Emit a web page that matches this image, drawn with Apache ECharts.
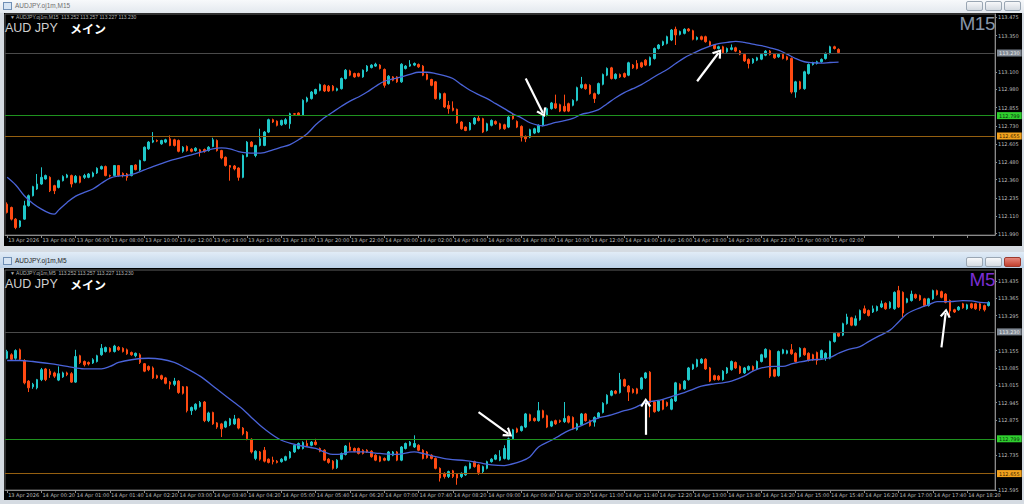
<!DOCTYPE html>
<html><head><meta charset="utf-8">
<script src="https://cdn.jsdelivr.net/npm/echarts@6/dist/echarts.min.js"></script>
<style>
html,body{margin:0;padding:0;}
body{width:1024px;height:504px;position:relative;overflow:hidden;background:#d5dbe2;font-family:'Liberation Sans',Arial,sans-serif;}
.tbar{position:absolute;left:0;width:1024px;}
#tb1{top:0;height:13px;background:linear-gradient(#f7f9fb,#e3e8ee);}
#tb2{top:252px;height:16px;background:linear-gradient(#e1ecf7,#bcd1e7);}
.ttl{position:absolute;left:15px;font-size:6.5px;line-height:8px;white-space:nowrap;}
.icon{position:absolute;left:3px;width:7px;height:6px;border:1px solid #6f8fb5;background:#d6e4f3;}
.btn{position:absolute;width:15px;height:8px;border:1px solid #9aa6b3;border-radius:2px;background:linear-gradient(#f7f8fa,#d5dbe2);}
.chart{position:absolute;left:4px;width:1018px;background:#000;}
.ov{position:absolute;white-space:nowrap;z-index:5;pointer-events:none;}
.info{font-size:5px;line-height:5px;color:#b4b4b4;left:6px;}
.sym{font-size:12.5px;line-height:10px;color:#cfcfcf;left:1px;}
.jp{font-family:'Noto Sans CJK JP',sans-serif;font-weight:bold;color:#fff;font-size:12px;line-height:10px;left:66px;}
.tf{font-size:19px;line-height:15px;right:27px;letter-spacing:-0.5px;}
</style></head><body>
<div class="tbar" id="tb1"><div class="icon" style="top:2px"></div><div class="ttl" style="top:2px;color:#6e6e6e">AUDJPY.oj1m,M15</div>
<div class="btn" style="left:966px;top:1px"></div><div class="btn" style="left:985px;top:1px"></div><div class="btn" style="left:1004px;top:1px"></div></div>
<div class="chart" id="c1" style="top:13px;height:233px;">
<div class="ov info" style="top:1.5px">▼ AUDJPY.oj1m,M15&nbsp; 113.252 113.257 113.227 113.230</div>
<div class="ov sym" style="top:9.5px">AUD JPY</div><div class="ov jp" style="top:10.5px">メイン</div>
<div class="ov tf" style="top:3px;color:#8796a8">M15</div>
</div>
<div class="tbar" id="tb2"><div class="icon" style="top:5px"></div><div class="ttl" style="top:5px;color:#1e1e1e">AUDJPY.oj1m,M5</div>
<div class="btn" style="left:966px;top:5px"></div><div class="btn" style="left:985px;top:5px"></div><div class="btn" style="left:1004px;top:5px;background:linear-gradient(#e6877c,#c2402f);border-color:#9c3a2e"></div></div>
<div class="chart" id="c2" style="top:268px;height:232px;">
<div class="ov info" style="top:2.5px">▼ AUDJPY.oj1m,M5&nbsp; 113.252 113.257 113.227 113.230</div>
<div class="ov sym" style="top:10.5px">AUD JPY</div><div class="ov jp" style="top:11.5px">メイン</div>
<div class="ov tf" style="top:4px;color:#7b2fd2">M5</div>
</div>
<script>
// ---------- DATA ----------
const m15TimeLabels = ['13 Apr 2026','13 Apr 04:00','13 Apr 06:00','13 Apr 08:00','13 Apr 10:00','13 Apr 12:00','13 Apr 14:00','13 Apr 16:00','13 Apr 18:00','13 Apr 20:00','13 Apr 22:00','14 Apr 00:00','14 Apr 02:00','14 Apr 04:00','14 Apr 06:00','14 Apr 08:00','14 Apr 10:00','14 Apr 12:00','14 Apr 14:00','14 Apr 16:00','14 Apr 18:00','14 Apr 20:00','14 Apr 22:00','15 Apr 00:00','15 Apr 02:00'];
const m5TimeLabels = ['13 Apr 2026','14 Apr 00:20','14 Apr 01:00','14 Apr 01:40','14 Apr 02:20','14 Apr 03:00','14 Apr 03:40','14 Apr 04:20','14 Apr 05:00','14 Apr 05:40','14 Apr 06:20','14 Apr 07:00','14 Apr 07:40','14 Apr 08:20','14 Apr 09:00','14 Apr 09:40','14 Apr 10:20','14 Apr 11:00','14 Apr 11:40','14 Apr 12:20','14 Apr 13:00','14 Apr 13:40','14 Apr 14:20','14 Apr 15:00','14 Apr 15:40','14 Apr 16:20','14 Apr 17:00','14 Apr 17:40','14 Apr 18:20'];
const m15PriceTicks = [113.475,113.350,113.100,112.980,112.855,112.730,112.605,112.480,112.360,112.235,112.110,111.990];
const m5PriceTicks = [113.435,113.365,113.295,113.155,113.085,113.015,112.945,112.875,112.735,112.595];
const levelPrices = [113.230, 112.799, 112.655];

// [open, close, low, high]
const m15Candles = [
[112.192,112.135,112.128,112.204],[112.169,112.089,112.080,112.175],[112.089,112.031,112.020,112.096],[112.038,112.077,112.030,112.082],
[112.089,112.181,112.085,112.215],[112.181,112.250,112.175,112.258],[112.250,112.312,112.245,112.318],[112.296,112.330,112.290,112.399],
[112.330,112.376,112.325,112.445],[112.365,112.388,112.360,112.395],[112.376,112.284,112.275,112.383],[112.319,112.284,112.261,112.325],
[112.307,112.353,112.300,112.360],[112.353,112.381,112.348,112.390],[112.376,112.392,112.370,112.400],[112.388,112.330,112.307,112.395],
[112.342,112.383,112.335,112.392],[112.381,112.342,112.335,112.388],[112.376,112.388,112.365,112.400],[112.376,112.399,112.370,112.406],
[112.383,112.406,112.376,112.415],[112.406,112.438,112.399,112.445],[112.434,112.450,112.429,112.457],[112.450,112.388,112.383,112.457],
[112.388,112.385,112.376,112.395],[112.388,112.457,112.383,112.461],[112.457,112.388,112.381,112.461],[112.403,112.388,112.376,112.410],
[112.399,112.376,112.353,112.406],[112.388,112.457,112.383,112.461],[112.461,112.429,112.424,112.466],[112.427,112.491,112.420,112.497],
[112.491,112.583,112.486,112.588],[112.572,112.618,112.565,112.625],[112.618,112.629,112.611,112.687],[112.629,112.625,112.618,112.636],
[112.606,112.629,112.600,112.634],[112.618,112.634,112.611,112.641],[112.641,112.595,112.590,112.664],[112.634,112.595,112.588,112.641],
[112.629,112.555,112.548,112.636],[112.555,112.583,112.545,112.590],[112.588,112.560,112.553,112.595],[112.569,112.555,112.548,112.576],
[112.560,112.576,112.553,112.583],[112.565,112.549,112.519,112.572],[112.567,112.555,112.545,112.574],[112.560,112.583,112.553,112.590],
[112.588,112.634,112.583,112.648],[112.629,112.560,112.553,112.636],[112.560,112.509,112.500,112.565],[112.514,112.457,112.450,112.519],
[112.457,112.445,112.353,112.461],[112.454,112.434,112.424,112.461],[112.440,112.376,112.353,112.445],[112.376,112.526,112.370,112.533],
[112.519,112.618,112.514,112.625],[112.618,112.588,112.583,112.625],[112.526,112.595,112.514,112.600],[112.595,112.641,112.588,112.710],
[112.595,112.687,112.590,112.694],[112.687,112.772,112.680,112.779],[112.772,112.756,112.749,112.779],[112.762,112.733,112.726,112.767],
[112.737,112.767,112.730,112.772],[112.744,112.772,112.737,112.783],[112.744,112.813,112.710,112.820],[112.813,112.810,112.802,112.818],
[112.818,112.804,112.797,112.822],[112.802,112.905,112.797,112.912],[112.898,112.921,112.890,112.930],[112.917,112.962,112.910,112.969],
[112.951,112.979,112.944,112.985],[112.974,113.013,112.967,113.020],[113.008,112.969,112.962,113.015],[113.002,112.969,112.962,113.010],
[113.002,112.974,112.967,113.010],[112.974,112.985,112.967,112.992],[112.985,113.055,112.979,113.062],[113.055,113.112,113.048,113.120],
[113.107,113.078,113.071,113.115],[113.089,113.066,113.060,113.095],[113.089,113.071,113.064,113.095],[113.066,113.112,113.060,113.117],
[113.107,113.140,113.100,113.147],[113.130,113.147,113.124,113.153],[113.140,113.153,113.135,113.163],[113.147,113.124,113.117,113.153],
[113.117,113.008,112.992,113.124],[113.020,113.071,113.013,113.078],[113.066,113.043,113.036,113.071],[113.066,113.032,113.025,113.071],
[113.032,113.153,113.025,113.160],[113.124,113.140,113.117,113.147],[113.140,113.153,113.135,113.181],[113.147,113.158,113.140,113.165],
[113.151,113.135,113.128,113.158],[113.140,113.078,113.071,113.147],[113.084,113.050,113.043,113.089],[113.048,113.008,113.002,113.053],
[113.032,112.917,112.910,113.038],[112.917,112.951,112.910,112.958],[112.951,112.859,112.852,112.958],[112.871,112.848,112.813,112.901],
[112.852,112.836,112.829,112.898],[112.843,112.751,112.744,112.848],[112.756,112.710,112.703,112.762],[112.721,112.698,112.693,112.726],
[112.703,112.749,112.698,112.756],[112.744,112.783,112.737,112.790],[112.783,112.767,112.760,112.802],[112.779,112.687,112.680,112.785],
[112.698,112.744,112.691,112.751],[112.733,112.767,112.726,112.774],[112.760,112.744,112.737,112.767],[112.744,112.710,112.703,112.751],
[112.737,112.710,112.703,112.744],[112.721,112.790,112.714,112.797],[112.806,112.779,112.772,112.813],[112.760,112.721,112.714,112.767],
[112.726,112.652,112.622,112.733],[112.657,112.641,112.618,112.664],[112.652,112.703,112.645,112.710],[112.680,112.710,112.673,112.717],
[112.687,112.733,112.680,112.740],[112.733,112.802,112.726,112.808],[112.802,112.848,112.795,112.855],[112.848,112.887,112.841,112.894],
[112.882,112.852,112.845,112.944],[112.875,112.831,112.824,112.882],[112.864,112.831,112.824,112.944],[112.882,112.831,112.824,112.889],
[112.871,112.905,112.864,112.912],[112.905,112.992,112.898,112.999],[112.992,113.013,112.985,113.066],[113.013,112.985,112.978,113.020],
[113.008,112.951,112.944,113.015],[112.951,112.917,112.887,112.958],[112.951,113.020,112.944,113.027],[113.015,113.082,113.008,113.089],
[113.078,113.124,113.071,113.131],[113.128,113.055,113.048,113.135],[113.055,113.084,113.048,113.091],[113.082,113.066,113.059,113.089],
[113.089,113.066,113.059,113.096],[113.078,113.163,113.071,113.170],[113.147,113.128,113.121,113.154],[113.158,113.124,113.117,113.181],
[113.163,113.135,113.128,113.170],[113.181,113.147,113.140,113.188],[113.147,113.199,113.140,113.206],[113.192,113.261,113.185,113.268],
[113.261,113.285,113.254,113.292],[113.285,113.308,113.278,113.315],[113.296,113.342,113.289,113.349],[113.319,113.388,113.312,113.395],
[113.393,113.354,113.285,113.411],[113.358,113.377,113.351,113.384],[113.365,113.393,113.358,113.400],[113.395,113.383,113.376,113.402],
[113.383,113.324,113.317,113.390],[113.324,113.337,113.317,113.344],[113.342,113.324,113.317,113.349],[113.342,113.308,113.301,113.349],
[113.308,113.285,113.278,113.315],[113.285,113.261,113.254,113.292],[113.261,113.273,113.254,113.280],[113.273,113.232,113.225,113.280],
[113.239,113.261,113.232,113.268],[113.255,113.266,113.248,113.289],[113.266,113.243,113.236,113.273],[113.243,113.222,113.215,113.250],
[113.220,113.176,113.169,113.227],[113.186,113.158,113.124,113.193],[113.163,113.188,113.156,113.195],[113.181,113.197,113.174,113.204],
[113.188,113.220,113.181,113.227],[113.215,113.243,113.208,113.250],[113.243,113.220,113.213,113.250],[113.222,113.197,113.190,113.229],
[113.204,113.220,113.197,113.227],[113.220,113.193,113.186,113.227],[113.204,113.186,113.179,113.211],[113.193,112.962,112.951,113.200],
[112.962,113.032,112.923,113.039],[113.032,112.985,112.978,113.039],[112.985,113.101,112.978,113.108],[113.089,113.151,113.082,113.158],
[113.151,113.163,113.144,113.170],[113.158,113.170,113.151,113.177],[113.170,113.186,113.163,113.193],[113.192,113.227,113.185,113.234],
[113.227,113.273,113.220,113.280],[113.273,113.261,113.254,113.280],[113.255,113.234,113.227,113.262]
];

const m5Candles = [
[113.124,113.151,113.120,113.158],[113.138,113.120,113.115,113.144],[113.124,113.155,113.118,113.160],[113.158,113.120,113.115,113.163],
[113.115,113.025,113.019,113.120],[113.032,113.005,112.988,113.036],[113.009,113.019,113.001,113.025],[113.005,113.038,112.999,113.041],
[113.038,113.078,113.032,113.085],[113.081,113.038,113.032,113.085],[113.072,113.058,113.045,113.081],[113.065,113.052,113.045,113.070],
[113.036,113.062,113.032,113.091],[113.049,113.065,113.045,113.070],[113.065,113.058,113.052,113.070],[113.062,113.028,113.025,113.068],
[113.028,113.131,113.025,113.158],[113.134,113.107,113.101,113.138],[113.111,113.098,113.091,113.115],[113.107,113.101,113.095,113.111],
[113.105,113.118,113.101,113.124],[113.111,113.134,113.107,113.138],[113.138,113.164,113.134,113.181],[113.151,113.167,113.147,113.171],
[113.164,113.151,113.147,113.168],[113.151,113.173,113.147,113.178],[113.168,113.158,113.154,113.173],[113.164,113.151,113.147,113.168],
[113.158,113.142,113.138,113.163],[113.147,113.138,113.134,113.151],[113.134,113.144,113.128,113.147],[113.138,113.107,113.101,113.144],
[113.102,113.072,113.068,113.105],[113.091,113.078,113.072,113.095],[113.085,113.045,113.041,113.091],[113.054,113.045,113.041,113.058],
[113.054,113.041,113.036,113.058],[113.045,113.023,113.019,113.049],[113.028,113.019,112.999,113.032],[113.019,113.032,113.012,113.045],
[113.032,112.986,112.981,113.036],[113.009,112.983,112.978,113.012],[113.009,112.913,112.906,113.012],[112.913,112.926,112.896,112.930],
[112.919,112.939,112.913,112.943],[112.930,112.946,112.926,112.952],[112.948,112.873,112.867,112.952],[112.873,112.904,112.867,112.909],
[112.906,112.860,112.856,112.909],[112.864,112.847,112.840,112.867],[112.860,112.840,112.807,112.864],[112.847,112.869,112.843,112.873],
[112.856,112.880,112.851,112.884],[112.860,112.880,112.856,112.896],[112.880,112.843,112.838,112.884],[112.843,112.820,112.814,112.847],
[112.827,112.800,112.794,112.831],[112.798,112.747,112.741,112.802],[112.721,112.750,112.714,112.754],[112.747,112.718,112.712,112.751],
[112.754,112.710,112.705,112.767],[112.718,112.705,112.701,112.721],[112.714,112.708,112.697,112.728],[112.710,112.705,112.701,112.714],
[112.708,112.718,112.704,112.722],[112.714,112.728,112.710,112.732],[112.724,112.747,112.720,112.751],[112.747,112.774,112.743,112.778],
[112.761,112.781,112.757,112.785],[112.761,112.785,112.757,112.790],[112.781,112.771,112.767,112.794],[112.774,112.787,112.770,112.791],
[112.787,112.777,112.773,112.800],[112.761,112.750,112.746,112.765],[112.754,112.714,112.710,112.758],[112.718,112.705,112.700,112.722],
[112.710,112.681,112.676,112.714],[112.684,112.714,112.679,112.718],[112.718,112.741,112.714,112.745],[112.737,112.771,112.733,112.775],
[112.767,112.754,112.750,112.785],[112.761,112.750,112.746,112.765],[112.761,112.741,112.737,112.765],[112.754,112.741,112.737,112.758],
[112.754,112.747,112.743,112.758],[112.750,112.728,112.724,112.754],[112.734,112.714,112.710,112.738],[112.728,112.710,112.706,112.732],
[112.721,112.714,112.710,112.725],[112.714,112.747,112.710,112.751],[112.734,112.747,112.730,112.751],[112.747,112.714,112.710,112.751],
[112.714,112.767,112.710,112.771],[112.761,112.781,112.757,112.785],[112.774,112.787,112.770,112.791],[112.767,112.781,112.763,112.814],
[112.774,112.754,112.750,112.778],[112.754,112.721,112.717,112.758],[112.747,112.724,112.720,112.751],[112.734,112.721,112.717,112.738],
[112.721,112.681,112.677,112.725],[112.681,112.642,112.628,112.685],[112.661,112.648,112.640,112.665],[112.648,112.668,112.642,112.672],
[112.671,112.648,112.642,112.675],[112.658,112.642,112.615,112.662],[112.648,112.661,112.642,112.665],[112.655,112.688,112.651,112.692],
[112.681,112.701,112.677,112.705],[112.708,112.688,112.684,112.712],[112.695,112.665,112.655,112.699],[112.668,112.688,112.662,112.692],
[112.681,112.708,112.677,112.712],[112.708,112.718,112.704,112.722],[112.718,112.734,112.714,112.738],[112.714,112.728,112.710,112.754],
[112.721,112.761,112.717,112.774],[112.718,112.800,112.714,112.805],[112.800,112.836,112.796,112.840],[112.840,112.827,112.823,112.845],
[112.833,112.849,112.829,112.853],[112.847,112.900,112.843,112.904],[112.897,112.873,112.869,112.901],[112.882,112.873,112.869,112.886],
[112.873,112.913,112.869,112.948],[112.913,112.886,112.882,112.917],[112.893,112.847,112.843,112.897],[112.851,112.869,112.847,112.873],
[112.873,112.860,112.856,112.877],[112.873,112.869,112.864,112.877],[112.869,112.882,112.864,112.948],[112.890,112.867,112.862,112.894],
[112.886,112.840,112.836,112.890],[112.837,112.860,112.833,112.864],[112.856,112.900,112.852,112.904],[112.900,112.873,112.869,112.904],
[112.873,112.853,112.849,112.877],[112.867,112.886,112.849,112.890],[112.886,112.904,112.882,112.908],[112.906,112.943,112.902,112.947],
[112.942,112.975,112.938,112.979],[112.975,112.992,112.971,112.996],[112.992,112.983,112.979,112.996],[112.986,113.038,112.982,113.065],
[113.038,113.012,113.008,113.042],[113.012,112.988,112.952,113.016],[112.999,112.986,112.982,113.003],[113.001,112.983,112.979,113.005],
[113.001,113.045,112.997,113.049],[113.045,113.065,113.041,113.069],[113.068,112.946,112.886,113.072],[112.948,112.909,112.905,112.952],
[112.913,112.952,112.909,112.956],[112.956,112.919,112.915,112.960],[112.946,112.933,112.929,112.950],[112.919,112.959,112.915,112.963],
[112.952,113.025,112.948,113.029],[113.019,112.999,112.995,113.023],[113.001,113.032,112.997,113.036],[113.038,113.085,113.034,113.089],
[113.081,113.098,113.077,113.102],[113.091,113.118,113.087,113.122],[113.105,113.120,113.101,113.124],[113.120,113.081,113.077,113.124],
[113.085,113.032,113.028,113.089],[113.054,113.038,113.034,113.058],[113.052,113.038,113.034,113.056],[113.038,113.072,113.034,113.076],
[113.065,113.085,113.061,113.089],[113.078,113.111,113.074,113.115],[113.107,113.085,113.081,113.111],[113.091,113.065,113.061,113.095],
[113.065,113.085,113.061,113.089],[113.078,113.091,113.074,113.095],[113.091,113.078,113.074,113.095],[113.081,113.111,113.077,113.115],
[113.111,113.138,113.107,113.142],[113.128,113.160,113.124,113.164],[113.155,113.052,113.045,113.159],[113.078,113.052,113.048,113.082],
[113.054,113.151,113.050,113.155],[113.144,113.158,113.140,113.162],[113.144,113.154,113.140,113.158],[113.158,113.142,113.138,113.181],
[113.144,113.111,113.107,113.148],[113.131,113.164,113.127,113.168],[113.163,113.138,113.134,113.167],[113.144,113.115,113.111,113.148],
[113.138,113.118,113.114,113.142],[113.147,113.115,113.098,113.151],[113.124,113.155,113.120,113.159],[113.124,113.144,113.114,113.148],
[113.124,113.191,113.120,113.195],[113.191,113.224,113.187,113.228],[113.224,113.213,113.209,113.228],[113.217,113.263,113.213,113.267],
[113.263,113.290,113.259,113.303],[113.287,113.257,113.253,113.291],[113.257,113.283,113.253,113.296],[113.279,113.316,113.275,113.320],
[113.323,113.306,113.302,113.336],[113.316,113.296,113.292,113.320],[113.310,113.323,113.306,113.336],[113.316,113.332,113.312,113.336],
[113.330,113.343,113.326,113.356],[113.345,113.323,113.319,113.349],[113.327,113.349,113.323,113.353],[113.323,113.389,113.319,113.393],
[113.396,113.330,113.326,113.415],[113.389,113.306,113.290,113.393],[113.349,113.363,113.345,113.367],[113.356,113.382,113.352,113.396],
[113.380,113.367,113.363,113.384],[113.376,113.359,113.355,113.380],[113.363,113.336,113.332,113.367],[113.336,113.363,113.332,113.367],
[113.363,113.396,113.359,113.400],[113.396,113.380,113.376,113.400],[113.392,113.369,113.365,113.396],[113.382,113.349,113.345,113.386],
[113.356,113.314,113.290,113.360],[113.319,113.310,113.306,113.323],[113.319,113.330,113.315,113.334],[113.343,113.327,113.323,113.347],
[113.323,113.339,113.319,113.343],[113.343,113.327,113.323,113.347],[113.343,113.323,113.319,113.347],[113.343,113.323,113.315,113.347],
[113.336,113.319,113.312,113.340],[113.336,113.349,113.332,113.353]
];

// moving average: bar number (1-based) and value
const m15MaBar = [1,3,5,7,9,11,12,13,15,17,19,21,23,25,27,29,31,33,35,37,39,41,43,45,47,49,51,53,55,57,59,61,63,65,67,69,71,73,75,77,79,81,83,85,87,89,91,93,95,97,99,101,103,105,107,109,111,113,115,117,119,121,123,125,126,127,129,131,133,135,137,139,141,143,145,147,149,151,153,155,157,159,161,163,165,167,169,171,173,175,177,179,181,183,185,187,189,191,193,195];
const m15MaValue = [112.376,112.323,112.250,112.197,112.158,112.128,112.123,112.151,112.204,112.247,112.273,112.296,112.335,112.371,112.385,112.390,112.404,112.427,112.450,112.470,112.491,112.507,112.523,112.539,112.555,112.572,112.578,112.572,112.553,112.544,112.542,112.546,112.565,112.583,112.601,112.634,112.675,112.737,112.785,112.825,112.864,112.900,112.928,112.962,113.002,113.036,113.052,113.066,113.084,113.098,113.098,113.089,113.075,113.055,113.013,112.974,112.944,112.917,112.882,112.848,112.813,112.785,112.751,112.733,112.730,112.737,112.753,112.765,112.781,112.808,112.822,112.841,112.882,112.923,112.958,112.985,113.013,113.048,113.084,113.117,113.158,113.197,113.227,113.255,113.278,113.294,113.303,113.310,113.303,113.291,113.280,113.266,113.250,113.222,113.192,113.170,113.163,113.160,113.165,113.167];
const m5MaBar = [1,4,7,11,15,19,23,25,27,30,34,37,40,42,46,50,54,56,58,61,65,69,73,75,77,79,81,84,88,92,96,98,101,104,108,111,114,117,118,121,123,125,128,130,132,135,137,139,142,145,147,150,152,154,156,159,161,163,166,168,170,173,175,177,180,182,184,186,189,191,193,195,197,200,202,204,207,209,211,214,216,218,221,224,226,228,230];
const m5MaValue = [113.115,113.115,113.111,113.102,113.091,113.081,113.081,113.091,113.107,113.118,113.124,113.120,113.107,113.091,113.052,112.999,112.946,112.919,112.886,112.840,112.794,112.774,112.761,112.747,112.737,112.738,112.747,112.747,112.741,112.737,112.747,112.741,112.728,112.718,112.712,112.704,112.695,112.692,112.695,112.710,112.728,112.767,112.794,112.814,112.833,112.853,112.869,112.884,112.896,112.913,112.922,112.946,112.952,112.959,112.970,112.986,112.999,113.012,113.021,113.025,113.032,113.052,113.072,113.085,113.091,113.091,113.101,113.109,113.118,113.120,113.127,113.144,113.158,113.171,113.191,113.210,113.237,113.270,113.303,113.327,113.339,113.352,113.352,113.356,113.355,113.349,113.347];

// hand-drawn arrows: [fromBar, fromPrice, toBar, toPrice]
const m15Arrows = [[122.4,113.055,125.5,112.818],[162,113.036,167.1,113.232]];
const m5Arrows = [[110.6,112.907,117.7,112.820],[149.6,112.816,149.8,112.946],[219.1,113.168,220.1,113.306]];

// ---------- STYLE ----------
const SLOTS = 231;
const BULL = '#1fc7c9', BEAR = '#ff4a12';
const levelStyles = [
  {line:'#4a4a4a', box:'#7f8893', text:'#e8e8e8'},
  {line:'#1f921f', box:'#2fcf2f', text:'#0b2f0b'},
  {line:'#955f10', box:'#f2a21e', text:'#3a2200'}
];
const CHEVRON = 'path://M5,0 L10,8.5 L8.2,9.5 L5,3.8 L1.8,9.5 L0,8.5 Z';
const AXC = '#8a8a8a', LBL = '#bfbfbf';

function build(el, cfg) {
  const chart = echarts.init(el, null, {renderer: 'svg'});
  const cats = Array.from({length: SLOTS}, (_, i) => i);
  const every8 = (i) => i % 8 === 0;
  const maData = cfg.maBar.map((b, k) => [b - 1, cfg.maValue[k]]);
  chart.setOption({
    animation: false,
    backgroundColor: '#000',
    grid: {left: 1, top: cfg.gridTop, width: 990, height: cfg.gridH, show: true, borderColor: '#5e5e5e', borderWidth: 1},
    xAxis: {
      type: 'category', data: cats, boundaryGap: true,
      axisLine: {show: true, lineStyle: {color: AXC, width: 1}},
      axisTick: {show: true, alignWithLabel: true, interval: every8, length: 3, lineStyle: {color: AXC}},
      axisLabel: {interval: every8, align: 'left', margin: 2, color: LBL, fontSize: 5, fontFamily: 'DejaVu Sans',
        padding: [0, 0, 0, 1], formatter: (v, i) => cfg.timeLabels[i / 8] || ''},
      splitLine: {show: false}
    },
    yAxis: {
      type: 'value', position: 'right', min: cfg.min, max: cfg.max,
      axisLine: {show: true, lineStyle: {color: AXC, width: 1}},
      axisTick: {show: true, customValues: cfg.ticks, length: 2, lineStyle: {color: AXC}},
      axisLabel: {customValues: cfg.ticks, margin: 3, color: LBL, fontSize: 5, fontFamily: 'DejaVu Sans', formatter: (v) => v.toFixed(3)},
      splitLine: {show: false}
    },
    series: [
      {
        type: 'candlestick', data: cfg.candles, barWidth: 2,
        itemStyle: {color: BULL, color0: BEAR, borderColor: BULL, borderColor0: BEAR, borderWidth: 1},
        markLine: {
          silent: true, animation: false, symbol: ['none', 'none'],
          data: levelPrices.map((v, k) => ({
            yAxis: v,
            lineStyle: {color: levelStyles[k].line, width: 1, type: 'solid'},
            label: {show: true, position: 'end', distance: 2, formatter: v.toFixed(3), fontSize: 5, fontFamily: 'DejaVu Sans',
              color: levelStyles[k].text, backgroundColor: levelStyles[k].box, padding: [1, 2, 1, 2]}
          }))
        }
      },
      {
        type: 'line', data: maData, showSymbol: false, smooth: 0.35, z: 3,
        lineStyle: {color: '#4a63d8', width: 1.3},
        markLine: {
          silent: true, animation: false, symbol: ['none', CHEVRON], symbolSize: [11, 9],
          lineStyle: {color: '#ffffff', width: 2.2, type: 'solid'},
          label: {show: false},
          data: cfg.arrows.map(a => [{coord: [a[0] - 1, a[1]]}, {coord: [a[2] - 1, a[3]]}])
        }
      }
    ]
  });
}

build(document.getElementById('c1'), {
  candles: m15Candles, maBar: m15MaBar, maValue: m15MaValue, arrows: m15Arrows,
  timeLabels: m15TimeLabels, ticks: m15PriceTicks, min: 111.980, max: 113.498, gridTop: 1, gridH: 221
});
build(document.getElementById('c2'), {
  candles: m5Candles, maBar: m5MaBar, maValue: m5MaValue, arrows: m5Arrows,
  timeLabels: m5TimeLabels, ticks: m5PriceTicks, min: 112.594, max: 113.479, gridTop: 2, gridH: 220
});
</script>
</body></html>
